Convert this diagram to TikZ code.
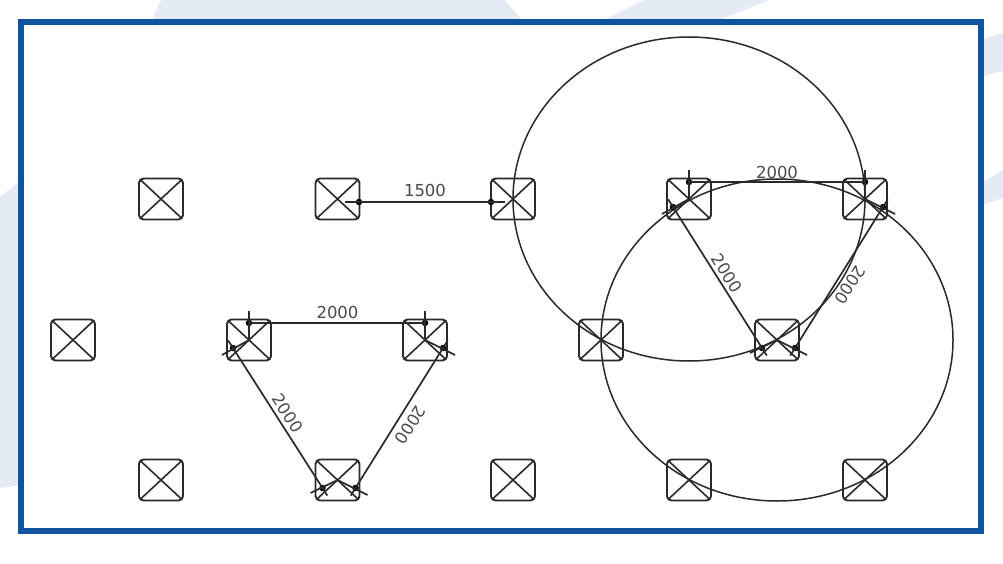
\documentclass[tikz,border=0pt]{standalone}
\usepackage{fontspec}
\setmainfont{DejaVu Sans}
\definecolor{framecol}{HTML}{10539E}
\definecolor{palecol}{HTML}{E4EBF5}
\definecolor{inkcol}{HTML}{2A2A2A}
\tikzset{
  x=1pt,y=-1pt,
  pilebox/.style={draw=inkcol,line width=1.9pt,rounded corners=4.5pt,minimum width=44pt,minimum height=41pt,inner sep=0pt,outer sep=0pt,
    path picture={\draw[inkcol,line width=1.6pt] (path picture bounding box.north west) -- (path picture bounding box.south east)
      (path picture bounding box.north east) -- (path picture bounding box.south west);}},
  pin/.style={circle,fill=black,minimum size=6.5pt,inner sep=0pt,outer sep=0pt},
  dimline/.style={draw=inkcol,line width=1.7pt},
  longline/.style={dimline,shorten <=-9pt,shorten >=-9pt},
  dimtext/.style={text=inkcol!85!white,font=\fontsize{16.5}{17}\selectfont,inner sep=0pt},
  arcline/.style={draw=inkcol,line width=1.5pt},
  pale/.style={fill=palecol,draw=none},
}
\newcommand{\trigroup}[4]{%
  \node[pin] (#1tl) at ([shift={(0,-17)}]#2) {};
  \node[pin] (#1tr) at ([shift={(0,-17)}]#3) {};
  \node[pin] (#1l) at ([shift={(-16,8)}]#2) {};
  \node[pin] (#1r) at ([shift={(18,8)}]#3) {};
  \node[pin] (#1bl) at ([shift={(-15,8)}]#4) {};
  \node[pin] (#1br) at ([shift={(18,8)}]#4) {};
  \coordinate (#1v1) at ([shift={(0,-29)}]#2);
  \coordinate (#1v2) at ([shift={(0,-29)}]#3);
  \coordinate (#1x1) at ([shift={(-27,15)}]#2);
  \coordinate (#1x2) at ([shift={(30,15)}]#3);
  \coordinate (#1x3) at ([shift={(-27,13)}]#4);
  \coordinate (#1x4) at ([shift={(30,15)}]#4);
  \draw[dimline] (#1tl.center) -- (#1tr.center);
  \draw[longline] (#1l.center) -- (#1bl.center);
  \draw[longline] (#1r.center) -- (#1br.center);
  \draw[dimline] (#1v1) -- (#2.center);
  \draw[dimline] (#1v2) -- (#3.center);
  \draw[dimline] (#2.center) -- (#1x1);
  \draw[dimline] (#3.center) -- (#1x2);
  \draw[dimline] (#4.center) -- (#1x3);
  \draw[dimline] (#4.center) -- (#1x4);
  \node[dimtext] (#1ta) at ([shift={(0,-168)}]#4) {2000};
  \node[dimtext,rotate=-57.6] (#1tb) at ([shift={(-50,-67)}]#4) {2000};
  \node[dimtext,rotate=-122.4] (#1tc) at ([shift={(73,-55)}]#4) {2000};
}
\begin{document}
\begin{tikzpicture}
\useasboundingbox (0,0) rectangle (1003,564);
\fill[white] (0,0) rectangle (1003,564);
\fill[pale] (150,24) -- (161,0) -- (505,0) -- (525,24) -- cycle;
\fill[pale] (596,24) -- (644,0) -- (769,0) -- (710,24) -- cycle;
\fill[pale] (0,197) -- (24,178) -- (24,485) -- (0,488) -- cycle;
\fill[pale] (980,40) -- (1003,33) -- (1003,71) -- (980,77) -- cycle;
\fill[pale] (980,184) -- (1003,170) -- (1003,198) -- (980,206) -- cycle;
\draw[framecol,line width=6pt,fill=white] (21.3,22.3) rectangle (981,531);
% piles
\foreach \n/\px in {1/161,2/337.5,3/513,4/689,5/865}{\node[pilebox] (a\n) at (\px,199) {};}
\foreach \n/\px in {1/73,2/249,3/425,4/601,5/777}{\node[pilebox] (b\n) at (\px,340) {};}
\foreach \n/\px in {1/161,2/337.5,3/513,4/689,5/865}{\node[pilebox] (c\n) at (\px,480) {};}
% circles
\draw[arcline] (a4.center) ellipse [x radius=176pt,y radius=162pt];
\draw[arcline] (b5.center) ellipse [x radius=176pt,y radius=161pt];
% 1500
\node[pin] (s1) at ([shift={(21.5,3)}]a2) {};
\node[pin] (s2) at ([shift={(-22,3)}]a3) {};
\draw[dimline,shorten <=-14pt,shorten >=-14pt] (s1.center) -- (s2.center);
\node[dimtext] (t1500) at (425,190) {1500};
% triangles
\trigroup{p}{b2}{b3}{c2}
\trigroup{q}{a4}{a5}{b5}
\end{tikzpicture}
\end{document}
